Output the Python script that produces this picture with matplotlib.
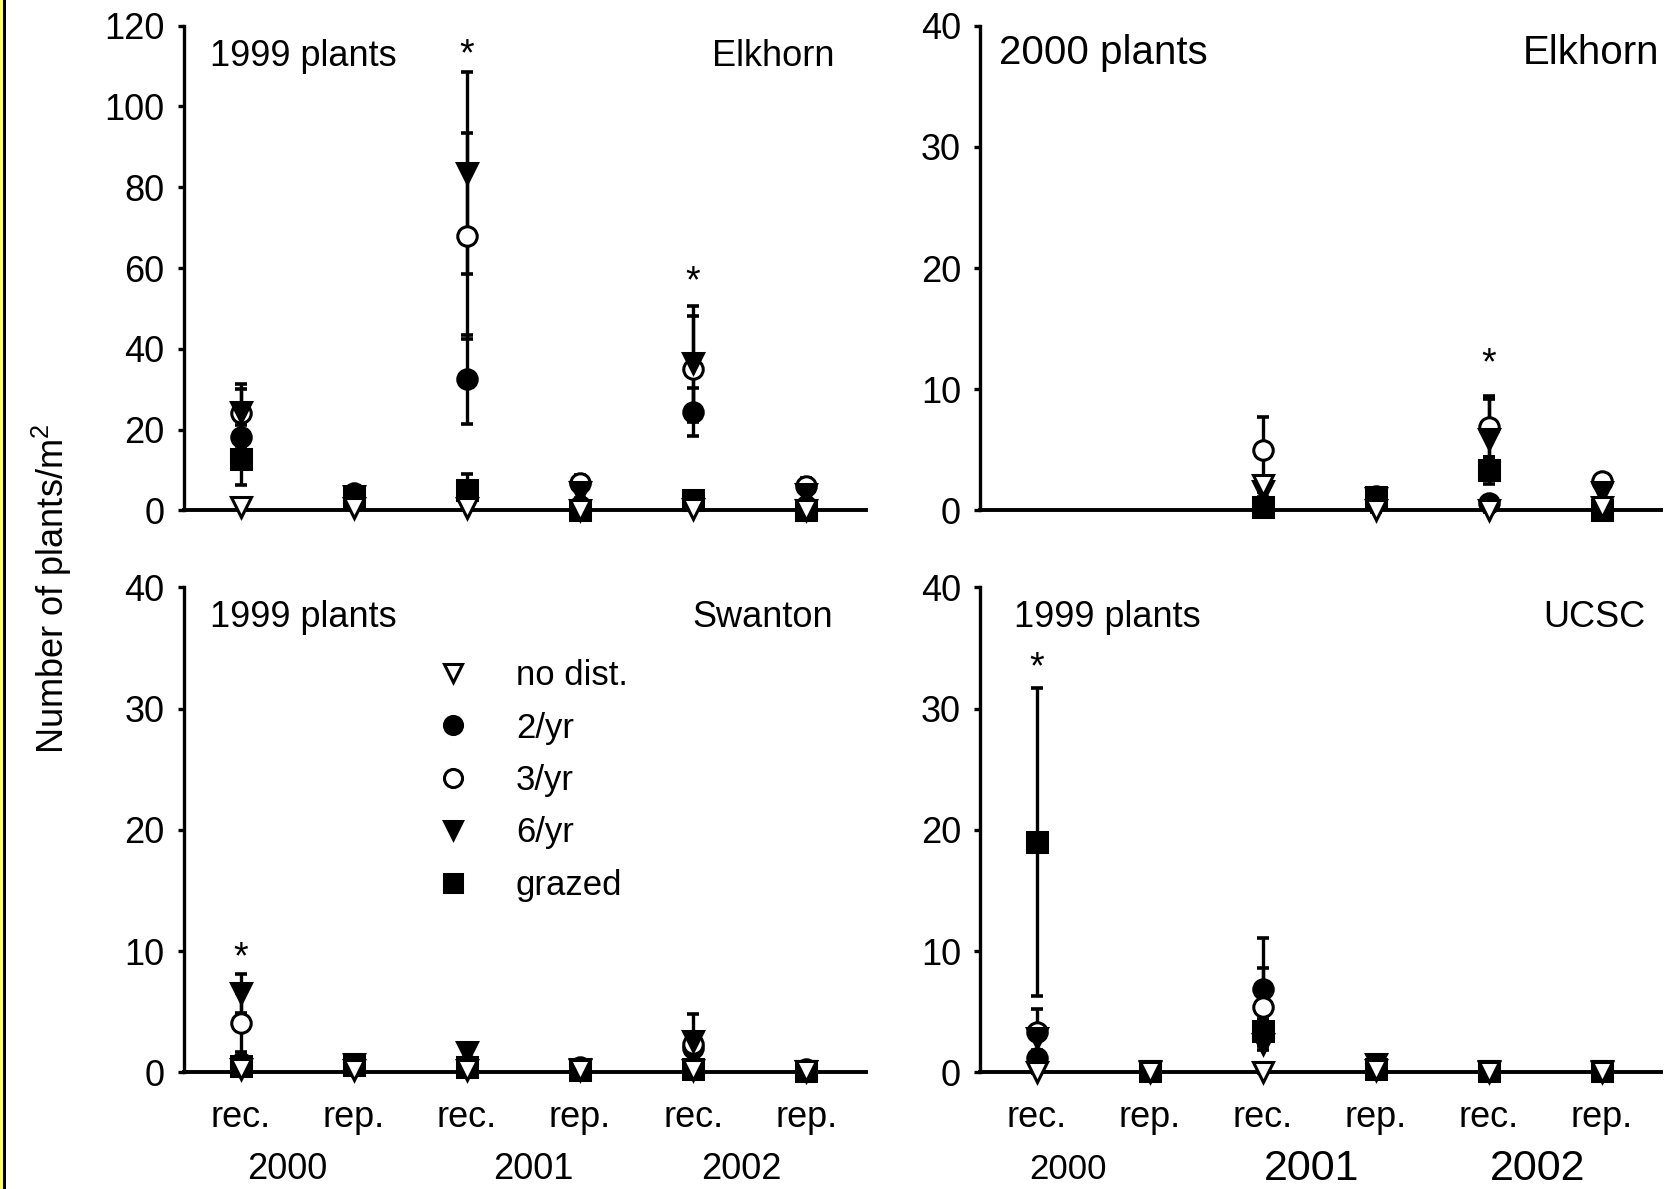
import numpy as np
import matplotlib
matplotlib.use('Agg')
import matplotlib.pyplot as plt
from matplotlib.patches import Rectangle
from matplotlib.lines import Line2D

plt.rcParams['font.family'] = ['Liberation Sans', 'DejaVu Sans']
plt.rcParams['mathtext.fontset'] = 'custom'
plt.rcParams['mathtext.rm'] = 'Liberation Sans'
plt.rcParams['mathtext.it'] = 'Liberation Sans:italic'

nan = np.nan

treatments = ['no dist.', '2/yr', '3/yr', '6/yr', 'grazed']
stages = ['rec.', 'rep.', 'rec.', 'rep.', 'rec.', 'rep.']
years = ['2000', '2001', '2002']

# rows: no dist., 2/yr, 3/yr, 6/yr, grazed ; columns: rec/rep 2000, 2001, 2002
elk99_mean = [[0.8, 0.5, 0.5, 0.2, 0.3, 0.2],
              [18.2, 3.0, 32.5, 1.0, 24.3, 1.0],
              [24.0, 4.2, 68.0, 6.9, 35.0, 6.0],
              [24.3, 3.5, 83.5, 4.5, 36.5, 4.0],
              [12.7, 3.0, 5.0, 0.0, 2.6, 0.0]]
elk99_se = [[0.3, 0.3, 0.3, 0.2, 0.2, 0.1],
            [3.0, 1.0, 11.0, 0.5, 6.0, 0.5],
            [6.0, 1.0, 25.5, 1.8, 13.0, 2.0],
            [7.0, 1.0, 25.0, 1.5, 14.0, 1.5],
            [6.4, 1.0, 4.0, 0.3, 0.8, 0.3]]
elk99_stars = [(2, 115.0), (4, 58.7)]

elk00_mean = [[nan, nan, 2.1, 0.0, 0.0, 0.3],
              [nan, nan, 0.3, 1.2, 0.6, 0.3],
              [nan, nan, 5.0, 1.0, 6.9, 2.4],
              [nan, nan, 1.6, 1.0, 5.9, 1.5],
              [nan, nan, 0.3, 1.1, 3.3, 0.0]]
elk00_se = [[nan, nan, 0.6, 0.1, 0.1, 0.2],
            [nan, nan, 0.2, 0.4, 0.3, 0.2],
            [nan, nan, 2.7, 0.4, 2.5, 0.5],
            [nan, nan, 0.5, 0.3, 3.3, 0.5],
            [nan, nan, 0.3, 0.3, 1.1, 0.2]]
elk00_stars = [(4, 12.8)]

swan99_mean = [[0.3, 0.2, 0.2, 0.2, 0.2, 0.1],
               [0.8, 0.6, 0.6, 0.4, 2.0, 0.2],
               [4.1, 0.5, 0.5, 0.3, 2.3, 0.3],
               [6.5, 0.7, 1.7, 0.3, 2.6, 0.1],
               [0.5, 0.6, 0.4, 0.2, 0.3, 0.1]]
swan99_se = [[0.1, 0.1, 0.1, 0.1, 0.1, 0.1],
             [0.5, 0.3, 0.4, 0.2, 1.2, 0.1],
             [2.4, 0.3, 0.3, 0.2, 1.0, 0.1],
             [1.6, 0.3, 0.5, 0.2, 2.2, 0.1],
             [0.3, 0.3, 0.2, 0.1, 0.2, 0.1]]
swan99_stars = [(0, 10.2)]

ucsc99_mean = [[0.0, 0.0, 0.0, 0.2, 0.0, 0.0],
               [1.2, 0.1, 6.9, 0.3, 0.1, 0.1],
               [3.3, 0.1, 5.4, 0.3, 0.1, 0.1],
               [2.8, 0.1, 2.3, 0.7, 0.1, 0.1],
               [19.0, 0.1, 3.4, 0.3, 0.1, 0.1]]
ucsc99_se = [[0.1, 0.1, 0.1, 0.1, 0.1, 0.1],
             [0.5, 0.1, 4.2, 0.2, 0.1, 0.1],
             [1.9, 0.1, 3.2, 0.2, 0.1, 0.1],
             [1.0, 0.1, 0.5, 0.4, 0.1, 0.1],
             [12.7, 0.1, 1.0, 0.2, 0.1, 0.1]]
ucsc99_stars = [(0, 34.1)]

# marker, face colour for each treatment
styles = [('v', 'white'), ('o', 'black'), ('o', 'white'), ('v', 'black'), ('s', 'black')]
draw_order = [1, 2, 3, 4, 0]   # no dist. ends up on top

fig = plt.figure(figsize=(16.75, 11.89), dpi=100)
fig.patches.append(Rectangle((0, 0), 3 / 1675, 1, transform=fig.transFigure,
                             facecolor='#ffff55', edgecolor='none'))
fig.patches.append(Rectangle((3 / 1675, 0), 2.5 / 1675, 1, transform=fig.transFigure,
                             facecolor='black', edgecolor='none'))

ax_tl = fig.add_axes([0.1099, 0.5707, 0.4072, 0.4078])
ax_tr = fig.add_axes([0.5853, 0.5707, 0.4066, 0.4078])
ax_bl = fig.add_axes([0.1099, 0.0982, 0.4072, 0.4078])
ax_br = fig.add_axes([0.5853, 0.0982, 0.4066, 0.4078])

x = np.arange(len(stages)) + 0.5


def draw_panel(ax, means, ses, ymax, ystep, stars):
    means = np.array(means)
    ses = np.array(ses)
    for i in draw_order:
        ax.errorbar(x, means[i], yerr=ses[i], fmt='none', ecolor='black',
                    elinewidth=2.4, capsize=4.3, capthick=2.6, zorder=3, clip_on=False)
    handles = {}
    for i in draw_order:
        m, fc = styles[i]
        line, = ax.plot(x, means[i], ls='none', marker=m, ms=14, mfc=fc, mec='black',
                        mew=2.2, zorder=4, clip_on=False, label=treatments[i])
        handles[i] = line
    for k, h in stars:
        ax.annotate('*', (x[k], h), xytext=(0, -14), textcoords='offset points',
                    ha='center', va='baseline', fontsize=27)
    ax.set_xlim(0, 6.03)
    ax.set_ylim(0, ymax)
    ax.set_yticks(np.arange(0, ymax + 0.1, ystep))
    ax.spines['top'].set_visible(False)
    ax.spines['right'].set_visible(False)
    ax.spines['left'].set_linewidth(2.4)
    ax.spines['bottom'].set_linewidth(2.8)
    ax.tick_params(axis='y', direction='out', length=4, width=2.4, pad=10, labelsize=26)
    ax.tick_params(axis='x', length=0, pad=20, labelsize=26)
    ax.set_xticks(x)
    return [handles[i] for i in range(len(treatments))]


draw_panel(ax_tl, elk99_mean, elk99_se, 120, 20, elk99_stars)
draw_panel(ax_tr, elk00_mean, elk00_se, 40, 10, elk00_stars)
leg_handles = draw_panel(ax_bl, swan99_mean, swan99_se, 40, 10, swan99_stars)
draw_panel(ax_br, ucsc99_mean, ucsc99_se, 40, 10, ucsc99_stars)

for ax in (ax_tl, ax_tr):
    ax.set_xticklabels([])
for ax in (ax_bl, ax_br):
    ax.set_xticklabels(stages)

# year labels under the bottom panels
for xp, yr in zip([0.915, 3.09, 4.93], years):
    ax_bl.text(xp, -0.2, yr, transform=ax_bl.get_xaxis_transform(),
               ha='center', va='center', fontsize=26)
for xp, yr, fs in zip([0.775, 2.93, 4.93], years, [25, 31, 31]):
    ax_br.text(xp, -0.2, yr, transform=ax_br.get_xaxis_transform(),
               ha='center', va='center', fontsize=fs)

ax_tl.text(0.038, 0.936, '1999 plants', transform=ax_tl.transAxes, ha='left', va='center', fontsize=26)
ax_tl.text(0.954, 0.936, 'Elkhorn', transform=ax_tl.transAxes, ha='right', va='center', fontsize=26)
ax_tr.text(0.027, 0.943, '2000 plants', transform=ax_tr.transAxes, ha='left', va='center', fontsize=29)
ax_tr.text(0.997, 0.943, 'Elkhorn', transform=ax_tr.transAxes, ha='right', va='center', fontsize=29)
ax_bl.text(0.038, 0.938, '1999 plants', transform=ax_bl.transAxes, ha='left', va='center', fontsize=26)
ax_bl.text(0.951, 0.938, 'Swanton', transform=ax_bl.transAxes, ha='right', va='center', fontsize=26)
ax_br.text(0.050, 0.938, '1999 plants', transform=ax_br.transAxes, ha='left', va='center', fontsize=26)
ax_br.text(0.976, 0.938, 'UCSC', transform=ax_br.transAxes, ha='right', va='center', fontsize=26)

leg_items = [Line2D([], [], ls='none', marker=h.get_marker(), ms=13, mfc=h.get_markerfacecolor(),
                    mec='black', mew=2.2) for h in leg_handles]
ax_bl.legend(leg_items, treatments, loc='upper left', bbox_to_anchor=(0.3695, 0.852),
             frameon=False, fontsize=25, handlelength=1.0, handletextpad=1.3,
             labelspacing=0.56, borderpad=0, borderaxespad=0, numpoints=1)

fig.text(0.031, 0.505, 'Number of plants/m$^2$', rotation=90, ha='center', va='center', fontsize=26)

fig.savefig('out.png', dpi=100)
